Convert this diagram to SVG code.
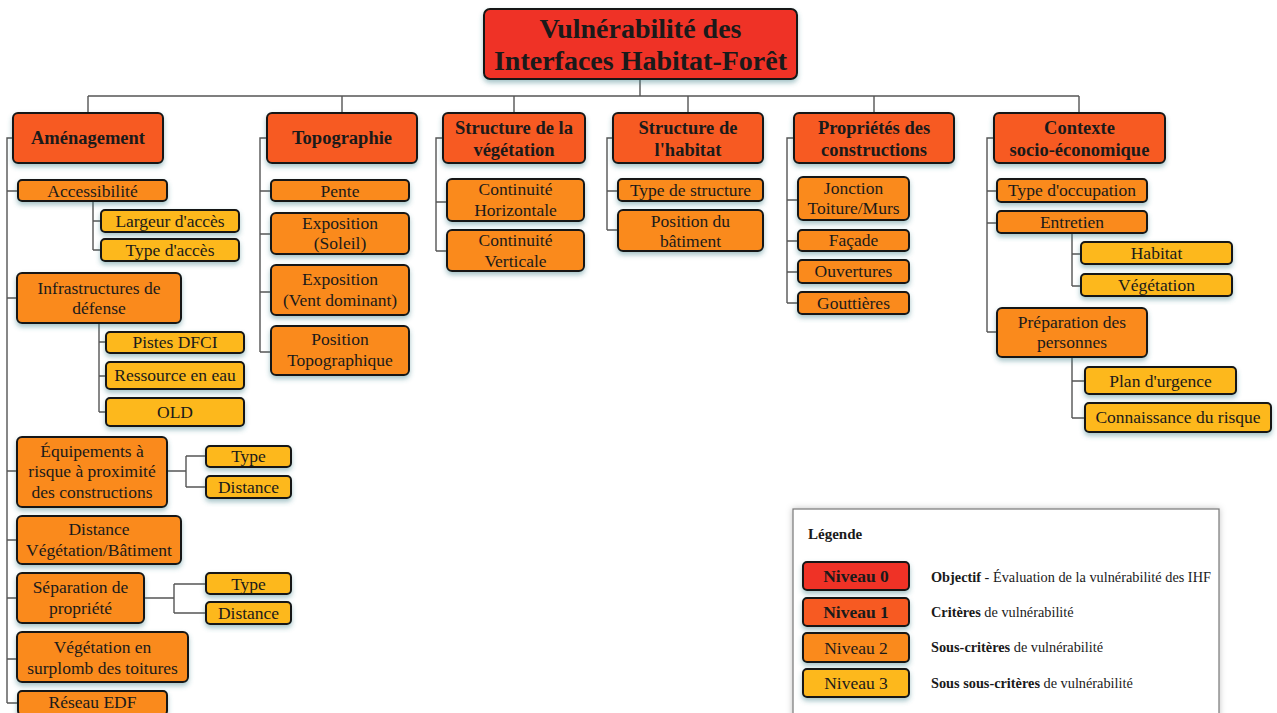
<svg xmlns="http://www.w3.org/2000/svg" width="1277" height="713" viewBox="0 0 1277 713">
<defs>
<filter id="sh" x="-10%" y="-20%" width="120%" height="160%">
<feDropShadow dx="0" dy="3" stdDeviation="2.5" flood-color="#3d7f86" flood-opacity="0.45"/>
</filter>
<filter id="shl" x="-5%" y="-5%" width="110%" height="110%">
<feDropShadow dx="0" dy="0" stdDeviation="3" flood-color="#000" flood-opacity="0.25"/>
</filter>
</defs>
<style>
rect.n{stroke:#161616;stroke-width:2;filter:url(#sh)}
.l0{fill:#EF3326}
.l1{fill:#F75A22}
.l2{fill:#FA8A1D}
.l3{fill:#FDB81C}
text{font-family:"Liberation Serif","Times New Roman",serif;fill:#1a1a1a;text-anchor:middle}
.t0{font-size:28px;font-weight:bold}
.t1{font-size:18.5px;font-weight:bold}
.t2{font-size:17.5px}
.lg{font-size:14.3px;text-anchor:start}
#connectors path{fill:none;stroke:#555;stroke-width:1.4}
</style>
<rect width="1277" height="713" fill="#fff"/>
<g id="connectors">
<path d="M640 79V96M88 96H1079M88 96V113M342 96V113M514 96V113M688 96V113M874 96V113M1079 96V113"/>
<path d="M13 138H7V703M7 191H18M7 298H17M7 471H17M7 540H17M7 598H17M7 659H17M7 703H18"/>
<path d="M93 201V250M93 221H101M93 250H101"/>
<path d="M99 323V412M99 342H106M99 376H106M99 412H106"/>
<path d="M167 471H186M186 456V487M186 456H206M186 487H206"/>
<path d="M144 598H174M174 584V613M174 584H206M174 613H206"/>
<path d="M267 138H260V352M260 191H271M260 234H271M260 292H271M260 352H271"/>
<path d="M443 138H436V251M436 202H447M436 251H447"/>
<path d="M613 138H607V230M607 191H618M607 230H618"/>
<path d="M794 138H787V303M787 200H798M787 241H798M787 272H798M787 303H798"/>
<path d="M994 138H987V332M987 191H997M987 223H997M987 332H997"/>
<path d="M1072 233V286M1072 254H1081M1072 286H1081"/>
<path d="M1072 357V418M1072 381H1085M1072 418H1085"/>
</g>
<g id="root"><rect class="n l0" x="484" y="9" width="313" height="70" rx="6"/><text class="t0" x="640.5" y="38">Vulnérabilité des</text><text class="t0" x="640.5" y="70">Interfaces Habitat-Forêt</text></g>
<g id="amenagement"><rect class="n l1" x="13" y="113" width="150" height="50" rx="5"/><text class="t1" x="88" y="144">Aménagement</text></g>
<g id="topographie"><rect class="n l1" x="267" y="113" width="150" height="50" rx="5"/><text class="t1" x="342" y="144">Topographie</text></g>
<g id="structure-vegetation"><rect class="n l1" x="443" y="113" width="142" height="50" rx="5"/><text class="t1" x="514" y="134">Structure de la</text><text class="t1" x="514" y="156">végétation</text></g>
<g id="structure-habitat"><rect class="n l1" x="613" y="113" width="150" height="50" rx="5"/><text class="t1" x="688" y="134">Structure de</text><text class="t1" x="688" y="156">l'habitat</text></g>
<g id="proprietes"><rect class="n l1" x="794" y="113" width="160" height="50" rx="5"/><text class="t1" x="874" y="134">Propriétés des</text><text class="t1" x="874" y="156">constructions</text></g>
<g id="contexte"><rect class="n l1" x="994" y="113" width="171" height="50" rx="5"/><text class="t1" x="1079.5" y="134">Contexte</text><text class="t1" x="1079.5" y="156">socio-économique</text></g>

<g id="accessibilite"><rect class="n l2" x="18" y="180" width="149" height="21" rx="4"/><text class="t2" x="92.5" y="197">Accessibilité</text></g>
<g id="largeur-acces"><rect class="n l3" x="101" y="210" width="138" height="22" rx="4"/><text class="t2" x="170" y="227">Largeur d'accès</text></g>
<g id="type-acces"><rect class="n l3" x="101" y="239" width="138" height="22" rx="4"/><text class="t2" x="170" y="256">Type d'accès</text></g>
<g id="infrastructures"><rect class="n l2" x="17" y="273" width="164" height="50" rx="5"/><text class="t2" x="99" y="294">Infrastructures de</text><text class="t2" x="99" y="314">défense</text></g>
<g id="pistes"><rect class="n l3" x="106" y="332" width="138" height="21" rx="4"/><text class="t2" x="175" y="348">Pistes DFCI</text></g>
<g id="ressource"><rect class="n l3" x="106" y="362" width="138" height="27" rx="4"/><text class="t2" x="175" y="381">Ressource en eau</text></g>
<g id="old"><rect class="n l3" x="106" y="398" width="138" height="28" rx="4"/><text class="t2" x="175" y="418">OLD</text></g>
<g id="equipements"><rect class="n l2" x="17" y="437" width="150" height="70" rx="5"/><text class="t2" x="92" y="457">Équipements à</text><text class="t2" x="92" y="477">risque à proximité</text><text class="t2" x="92" y="498">des constructions</text></g>
<g id="equip-type"><rect class="n l3" x="206" y="446" width="85" height="21" rx="4"/><text class="t2" x="248.5" y="462">Type</text></g>
<g id="equip-distance"><rect class="n l3" x="206" y="476" width="85" height="22" rx="4"/><text class="t2" x="248.5" y="493">Distance</text></g>
<g id="distance-veg"><rect class="n l2" x="17" y="516" width="164" height="48" rx="5"/><text class="t2" x="99" y="535">Distance</text><text class="t2" x="99" y="556">Végétation/Bâtiment</text></g>
<g id="separation"><rect class="n l2" x="17" y="573" width="127" height="50" rx="5"/><text class="t2" x="80.5" y="593">Séparation de</text><text class="t2" x="80.5" y="614">propriété</text></g>
<g id="sep-type"><rect class="n l3" x="206" y="573" width="85" height="21" rx="4"/><text class="t2" x="248.5" y="590">Type</text></g>
<g id="sep-distance"><rect class="n l3" x="206" y="602" width="85" height="22" rx="4"/><text class="t2" x="248.5" y="619">Distance</text></g>
<g id="surplomb"><rect class="n l2" x="17" y="632" width="171" height="50" rx="5"/><text class="t2" x="102.5" y="653">Végétation en</text><text class="t2" x="102.5" y="674">surplomb des toitures</text></g>
<g id="reseau"><rect class="n l2" x="18" y="691" width="149" height="24" rx="4"/><text class="t2" x="92.5" y="708">Réseau EDF</text></g>

<g id="pente"><rect class="n l2" x="271" y="180" width="138" height="21" rx="4"/><text class="t2" x="340" y="197">Pente</text></g>
<g id="expo-soleil"><rect class="n l2" x="271" y="213" width="138" height="41" rx="5"/><text class="t2" x="340" y="229">Exposition</text><text class="t2" x="340" y="249">(Soleil)</text></g>
<g id="expo-vent"><rect class="n l2" x="271" y="265" width="138" height="50" rx="5"/><text class="t2" x="340" y="285">Exposition</text><text class="t2" x="340" y="306">(Vent dominant)</text></g>
<g id="position-topo"><rect class="n l2" x="271" y="326" width="138" height="49" rx="5"/><text class="t2" x="340" y="345">Position</text><text class="t2" x="340" y="366">Topographique</text></g>

<g id="cont-horiz"><rect class="n l2" x="447" y="179" width="137" height="42" rx="5"/><text class="t2" x="515.5" y="195">Continuité</text><text class="t2" x="515.5" y="216">Horizontale</text></g>
<g id="cont-vert"><rect class="n l2" x="447" y="230" width="137" height="41" rx="5"/><text class="t2" x="515.5" y="246">Continuité</text><text class="t2" x="515.5" y="267">Verticale</text></g>

<g id="type-structure"><rect class="n l2" x="618" y="179" width="145" height="22" rx="4"/><text class="t2" x="690.5" y="196">Type de structure</text></g>
<g id="position-batiment"><rect class="n l2" x="618" y="210" width="145" height="41" rx="5"/><text class="t2" x="690.5" y="227">Position du</text><text class="t2" x="690.5" y="247">bâtiment</text></g>

<g id="jonction"><rect class="n l2" x="798" y="177" width="111" height="43" rx="5"/><text class="t2" x="853.5" y="194">Jonction</text><text class="t2" x="853.5" y="214">Toiture/Murs</text></g>
<g id="facade"><rect class="n l2" x="798" y="230" width="111" height="21" rx="4"/><text class="t2" x="853.5" y="246">Façade</text></g>
<g id="ouvertures"><rect class="n l2" x="798" y="260" width="111" height="23" rx="4"/><text class="t2" x="853.5" y="277">Ouvertures</text></g>
<g id="gouttieres"><rect class="n l2" x="798" y="292" width="111" height="22" rx="4"/><text class="t2" x="853.5" y="309">Gouttières</text></g>

<g id="type-occupation"><rect class="n l2" x="997" y="179" width="150" height="23" rx="4"/><text class="t2" x="1072" y="196">Type d'occupation</text></g>
<g id="entretien"><rect class="n l2" x="997" y="211" width="150" height="22" rx="4"/><text class="t2" x="1072" y="228">Entretien</text></g>
<g id="habitat"><rect class="n l3" x="1081" y="242" width="151" height="22" rx="4"/><text class="t2" x="1156.5" y="259">Habitat</text></g>
<g id="vegetation"><rect class="n l3" x="1081" y="274" width="151" height="22" rx="4"/><text class="t2" x="1156.5" y="291">Végétation</text></g>
<g id="preparation"><rect class="n l2" x="997" y="308" width="150" height="49" rx="5"/><text class="t2" x="1072" y="328">Préparation des</text><text class="t2" x="1072" y="348">personnes</text></g>
<g id="plan-urgence"><rect class="n l3" x="1085" y="367" width="151" height="27" rx="4"/><text class="t2" x="1160.5" y="387">Plan d'urgence</text></g>
<g id="connaissance"><rect class="n l3" x="1085" y="403" width="186" height="29" rx="4"/><text class="t2" x="1178" y="423">Connaissance du risque</text></g>

<g id="legende">
<rect x="793" y="509" width="426" height="215" fill="#fff" stroke="#777" stroke-width="1.2" filter="url(#shl)"/>
<text x="808" y="539" style="font-size:15px;font-weight:bold;text-anchor:start">Légende</text>
<rect class="n l0" x="803" y="562" width="106" height="28" rx="4"/><text x="856" y="582" style="font-size:17.5px;font-weight:bold">Niveau 0</text>
<rect class="n l1" x="803" y="598" width="106" height="28" rx="4"/><text x="856" y="618" style="font-size:17.5px;font-weight:bold">Niveau 1</text>
<rect class="n l2" x="803" y="633" width="106" height="29" rx="4"/><text x="856" y="654" style="font-size:17.5px">Niveau 2</text>
<rect class="n l3" x="803" y="669" width="106" height="28" rx="4"/><text x="856" y="689" style="font-size:17.5px">Niveau 3</text>
<text class="lg" x="931" y="582"><tspan font-weight="bold">Objectif</tspan> - Évaluation de la vulnérabilité des IHF</text>
<text class="lg" x="931" y="617"><tspan font-weight="bold">Critères</tspan> de vulnérabilité</text>
<text class="lg" x="931" y="652"><tspan font-weight="bold">Sous-critères</tspan> de vulnérabilité</text>
<text class="lg" x="931" y="688"><tspan font-weight="bold">Sous sous-critères</tspan> de vulnérabilité</text>
</g>
</svg>
